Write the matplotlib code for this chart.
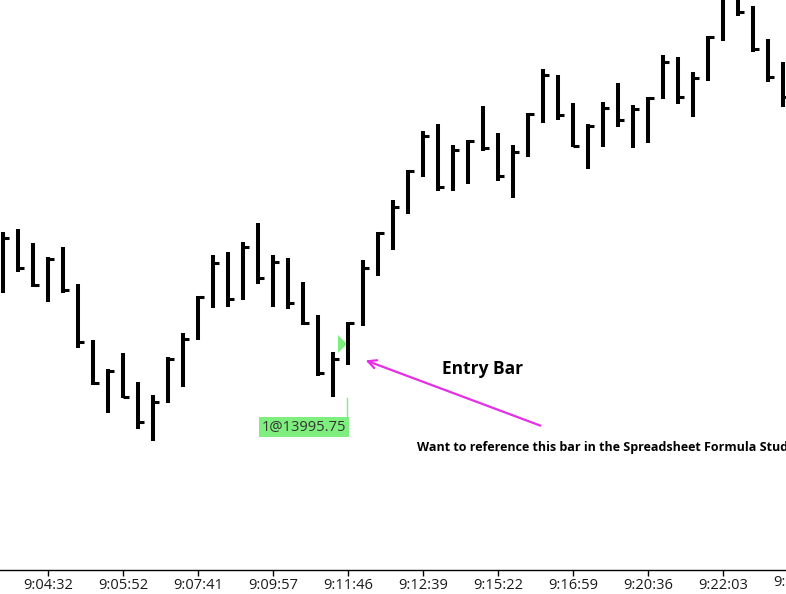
import matplotlib
matplotlib.use("Agg")
import matplotlib.pyplot as plt
from matplotlib.patches import Polygon
from matplotlib.transforms import blended_transform_factory
import numpy as np

# ---- data (HLC bars) ----
highs = [14023.75, 14024.5, 14021.0, 14017.5, 14020.0, 14010.75, 13996.75, 13989.5, 13993.5, 13986.25,
         13983.0, 13992.5, 13998.5, 14007.75, 14018.0, 14018.75, 14021.25, 14026.0, 14018.0, 14017.25,
         14011.25, 14003.0, 13993.75, 14001.25, 14016.75, 14023.75, 14031.75, 14039.25, 14049.0, 14050.75,
         14045.5, 14046.75, 14055.25, 14048.5, 14045.5, 14053.5, 14064.5, 14063.0, 14056.0, 14050.75,
         14056.25, 14061.0, 14055.5, 14057.5, 14068.0, 14067.5, 14063.75, 14072.75, 14083.0, 14088.75,
         14080.25, 14072.0, 14066.25]
lows = [14008.5, 14013.75, 14010.0, 14006.25, 14008.5, 13994.75, 13985.5, 13978.5, 13982.25, 13974.5,
        13971.5, 13981.0, 13985.0, 13996.75, 14004.75, 14005.0, 14006.75, 14010.75, 14005.0, 14004.5,
        14000.5, 13987.75, 13982.5, 13990.5, 14000.25, 14012.75, 14019.25, 14028.25, 14037.5, 14034.0,
        14034.0, 14035.75, 14044.0, 14036.5, 14032.25, 14042.5, 14051.0, 14051.75, 14045.0, 14039.5,
        14045.0, 14050.0, 14044.75, 14046.0, 14057.0, 14055.75, 14052.5, 14061.5, 14071.5, 14077.75,
        14068.75, 14061.25, 14055.0]
closes = [14022.25, 14014.75, 14010.5, 14017.0, 14009.25, 13996.25, 13986.0, 13989.0, 13982.5, 13976.25,
          13981.25, 13992.0, 13997.0, 14007.5, 14016.0, 14007.0, 14020.0, 14012.25, 14016.25, 14006.0,
          14001.0, 13988.5, 13992.0, 14001.0, 14014.75, 14023.5, 14030.0, 14039.0, 14047.75, 14035.0,
          14044.25, 14046.5, 14044.75, 14037.75, 14043.75, 14053.25, 14063.0, 14053.0, 14045.25, 14050.25,
          14054.75, 14051.75, 14054.5, 14057.25, 14066.25, 14057.5, 14062.25, 14072.5, 14082.5, 14078.75,
          14069.5, 14062.5, 14057.5]

tick_positions = [3, 8, 13, 18, 23, 28, 33, 38, 43, 48]
tick_labels = ["9:04:32", "9:05:52", "9:07:41", "9:09:57", "9:11:46",
               "9:12:39", "9:15:22", "9:16:59", "9:20:36", "9:22:03"]
extra_tick_pos = 53
extra_tick_label = "9:23:15"

entry_idx = 23
entry_price = 13995.75
entry_label = "1@13995.75"

# ---- figure ----
W, H, DPI = 786, 594, 100
fig = plt.figure(figsize=(W / DPI, H / DPI), dpi=DPI)
fig.patch.set_facecolor("white")
ax = fig.add_axes([0, 24 / H, 1, 570 / H])
ax.set_facecolor("white")

n = len(highs)
idx = np.arange(n)
px = 1 / 15.0  # one pixel in bar-index units
ppx = 0.25     # one pixel in price units

ax.vlines(idx, lows, highs, colors="black", linewidth=2.9, capstyle="butt")
ax.hlines(closes, idx, idx + 6 * px, colors="black", linewidth=2.2, capstyle="butt")

ax.set_xlim(-3 * px, (786 - 3) * px)
ax.set_ylim(14081.75 - 570 * ppx, 14081.75)

for s in ["left", "right", "top"]:
    ax.spines[s].set_visible(False)
ax.spines["bottom"].set_color("black")
ax.spines["bottom"].set_linewidth(1.0)
ax.set_yticks([])
ax.set_xticks(tick_positions)
ax.set_xticklabels(tick_labels, fontfamily="Open Sans", fontsize=10.5, color="#1a1a1a")
ax.tick_params(axis="x", direction="out", length=4, width=1, pad=2, colors="black", labelcolor="#1a1a1a")

trans = blended_transform_factory(ax.transData, ax.transAxes)
ax.text(extra_tick_pos, -0.009, extra_tick_label, transform=trans, ha="center", va="top",
        fontfamily="Open Sans", fontsize=10.5, color="#1a1a1a", clip_on=False)

# entry marker (triangle pointing right)
green = "#7EEE7E"
tri = Polygon([(entry_idx - 10 * px, entry_price + 9 * ppx),
               (entry_idx - 10 * px, entry_price - 9 * ppx),
               (entry_idx - 1 * px, entry_price)], closed=True, facecolor=green, edgecolor="none")
ax.add_patch(tri)

# label leader line + label
lx = entry_idx - 1 * px
ax.plot([lx, lx], [lows[entry_idx - 1] - 0.25, lows[entry_idx - 1] - 20 * ppx], color=green, linewidth=1)
ax.text(lx - 0.5 * px, lows[entry_idx - 1] - 30 * ppx, entry_label, ha="right", va="center",
        fontfamily="Open Sans", fontsize=10.5, color="#333333",
        bbox=dict(boxstyle="square,pad=0.18", facecolor=green, edgecolor="none"))

# magenta arrow
ax.annotate("", xy=(entry_idx + 15 * px, 13991.9), xytext=(36.0, 13975.1),
            arrowprops=dict(arrowstyle="->,head_length=0.6,head_width=0.3", color="#E62EE6", linewidth=1.6))

ax.text(32.0, 13989.5, "Entry Bar", ha="center", va="center", fontfamily=["Open Sans", "DejaVu Sans"],
        fontweight="bold", fontsize=12.5, color="black")
ax.text(27.58, 13970.0, "Want to reference this bar in the Spreadsheet Formula Study",
        ha="left", va="center", fontfamily=["Open Sans", "DejaVu Sans"], fontweight="bold", fontsize=9.0, color="black")

fig.savefig("out.png", dpi=DPI, facecolor="white")
